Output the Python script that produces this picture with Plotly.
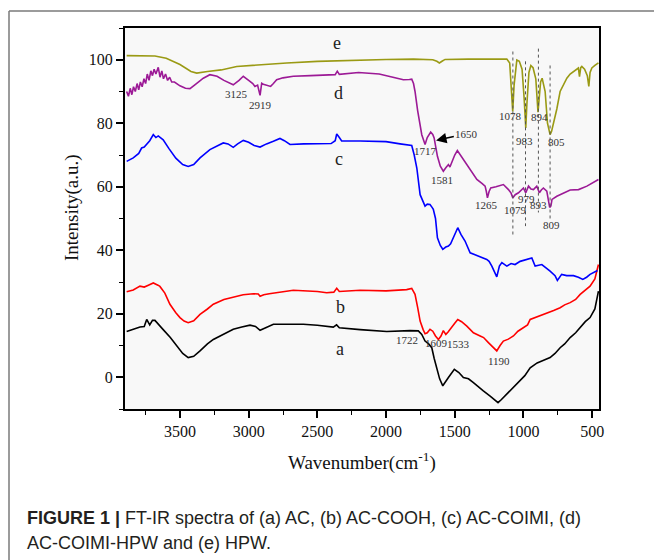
import plotly.graph_objects as go

# ---------------- data ----------------
e_x = [3888, 3800, 3682, 3600, 3500, 3420, 3378, 3300, 3200, 3087, 2900, 2723, 2500, 2189, 2000, 1800,
       1660, 1630, 1612, 1590, 1570, 1400, 1200, 1121, 1100, 1090, 1078, 1068, 1055, 1048, 1030, 1010,
       995, 983, 975, 960, 946, 930, 910, 894, 885, 875, 864, 842, 825, 815, 806, 795, 782, 757, 733,
       700, 684, 660, 636, 610, 600, 592, 583, 575, 555, 535, 524, 515, 502, 480, 454]
e_y = [101.3, 101.3, 101.2, 100.5, 98.5, 96.3, 95.8, 96.3, 96.8, 97.9, 98.5, 99.0, 99.5, 100.0, 100.1, 100.2,
       100.0, 99.5, 99.0, 99.6, 100.1, 100.2, 100.3, 100.2, 99.0, 93.0, 83.7, 92.0, 99.0, 99.9, 99.5, 97.0,
       88.0, 78.5, 86.0, 96.0, 98.2, 97.5, 94.0, 83.5, 88.0, 93.0, 94.2, 90.0, 80.0, 77.5, 76.4, 77.5, 79.6, 84.5, 90.0,
       93.0, 94.2, 95.5, 96.3, 97.2, 97.4, 94.7, 97.5, 97.9, 97.0, 95.0, 91.6, 96.0, 97.4, 98.2, 99.0]

d_x = [3888, 3875, 3862, 3850, 3838, 3825, 3812, 3800, 3788, 3775, 3762, 3750, 3738, 3725, 3712, 3700,
       3688, 3675, 3658, 3645, 3632, 3620, 3605, 3590, 3575, 3560, 3540, 3500, 3460, 3427, 3380, 3330,
       3282, 3230, 3180, 3112, 3070, 3039, 3000, 2970, 2954, 2935, 2917, 2905, 2893, 2860, 2840, 2820,
       2796, 2750, 2675, 2550, 2400, 2370, 2355, 2340, 2200, 2050, 1950, 1874, 1830, 1813, 1800, 1789,
       1770, 1740, 1716, 1700, 1675, 1660, 1650, 1640, 1626, 1605, 1583, 1565, 1546, 1535, 1520, 1500,
       1481, 1460, 1412, 1380, 1339, 1300, 1279, 1270, 1262, 1250, 1238, 1200, 1146, 1109, 1090, 1077,
       1060, 1036, 1000, 983, 963, 945, 927, 903, 884, 870, 855, 830, 818, 809, 800, 792, 757, 709, 660,
       599, 538, 454]
d_y = [90.0, 88.5, 91.0, 89.0, 91.5, 90.0, 92.5, 90.5, 93.0, 91.5, 94.0, 92.5, 95.5, 93.5, 96.5, 95.0,
       97.0, 95.5, 97.6, 94.5, 96.5, 94.0, 95.5, 93.5, 94.5, 93.0, 93.0, 91.8, 91.0, 90.9, 92.5, 94.2,
       95.3, 94.8, 93.5, 92.1, 93.5, 94.8, 93.5, 92.5, 91.6, 92.0, 88.8, 92.6, 92.3, 92.0, 91.6, 92.5,
       93.7, 94.3, 94.8, 95.0, 95.3, 95.3, 96.4, 95.4, 96.0, 95.5, 94.5, 93.7, 93.8, 93.9, 92.5, 90.0,
       84.0, 76.4, 73.3, 75.5, 77.2, 76.5, 75.4, 73.0, 69.6, 66.5, 64.9, 66.0, 67.0, 66.2, 68.0, 70.0,
       71.4, 70.0, 67.0, 65.0, 62.3, 61.0, 60.2, 58.5, 56.5, 58.5, 59.6, 60.0, 60.7, 59.1, 58.0, 56.5,
       57.5, 58.1, 59.6, 58.1, 60.2, 59.3, 59.1, 60.2, 58.1, 59.0, 59.6, 58.6, 56.0, 53.5, 54.0, 56.0, 57.0, 58.0, 59.0,
       59.1, 60.2, 62.3]

c_x = [3888, 3840, 3800, 3779, 3760, 3742, 3720, 3694, 3675, 3658, 3640, 3622, 3580, 3530, 3480, 3440,
       3400, 3354, 3282, 3230, 3185, 3150, 3112, 3080, 3039, 3000, 2960, 2917, 2870, 2820, 2772, 2740,
       2699, 2600, 2480, 2400, 2370, 2359, 2340, 2323, 2189, 2000, 1898, 1813, 1795, 1776, 1752, 1730,
       1716, 1700, 1680, 1665, 1656, 1640, 1626, 1605, 1587, 1565, 1546, 1530, 1510, 1478, 1455, 1425,
       1388, 1352, 1310, 1267, 1250, 1230, 1194, 1175, 1157, 1121, 1090, 1061, 1024, 980, 939, 915, 866,
       806, 770, 753, 722, 685, 636, 600, 568, 540, 515, 461]
c_y = [68.0, 69.1, 70.5, 72.2, 72.5, 73.3, 74.5, 76.4, 75.5, 76.0, 75.3, 74.8, 72.0, 69.0, 67.0, 66.4,
       67.0, 69.1, 71.7, 72.8, 73.8, 73.5, 72.4, 73.5, 74.6, 74.0, 73.0, 72.5, 73.5, 74.3, 75.2, 74.5,
       73.3, 73.5, 73.5, 73.6, 74.5, 76.6, 75.5, 74.4, 74.4, 74.2, 73.5, 73.0, 70.0, 65.9, 57.5, 55.0,
       53.9, 54.5, 54.4, 53.5, 52.9, 50.0, 43.9, 41.5, 40.3, 41.0, 41.3, 42.0, 44.0, 47.1, 45.0, 42.9,
       39.2, 38.6, 38.0, 37.1, 36.5, 35.0, 31.6, 35.0, 36.1, 35.0, 35.8, 35.5, 36.5, 37.0, 37.6, 35.0, 35.5,
       33.4, 32.0, 30.5, 32.4, 32.0, 32.0, 31.5, 30.8, 31.5, 32.4, 33.6]

b_x = [3888, 3840, 3791, 3760, 3730, 3694, 3660, 3646, 3610, 3573, 3530, 3500, 3470, 3440, 3400, 3354,
       3300, 3257, 3180, 3112, 3040, 2966, 2930, 2917, 2890, 2850, 2675, 2500, 2432, 2380, 2359, 2340,
       2189, 2000, 1850, 1813, 1789, 1770, 1752, 1730, 1716, 1700, 1680, 1660, 1640, 1619, 1600, 1583,
       1565, 1550, 1522, 1500, 1478, 1450, 1412, 1364, 1315, 1290, 1255, 1220, 1194, 1170, 1146, 1110,
       1073, 1040, 1000, 970, 951, 900, 830, 780, 733, 700, 660, 620, 587, 550, 515, 480, 454]
b_y = [26.9, 27.5, 28.7, 28.4, 29.0, 29.7, 29.0, 28.6, 26.5, 23.0, 20.3, 18.8, 17.7, 17.2, 17.8, 19.8,
       21.5, 23.0, 24.5, 25.3, 26.0, 26.3, 26.2, 25.5, 26.0, 26.3, 27.4, 27.0, 26.6, 26.8, 28.0, 27.0,
       27.4, 27.2, 27.6, 28.0, 26.1, 22.0, 17.7, 15.0, 13.7, 14.0, 15.1, 14.5, 13.0, 11.9, 13.0, 14.7,
       13.5, 14.2, 15.6, 17.0, 18.2, 17.5, 16.1, 14.0, 13.0, 12.5, 10.9, 9.5, 8.3, 10.0, 11.4, 12.0,
       13.0, 14.5, 15.6, 16.5, 18.2, 19.0, 20.3, 21.0, 21.9, 22.8, 23.5, 24.5, 26.1, 27.5, 28.7, 31.0, 35.5]

a_x = [3888, 3840, 3791, 3760, 3742, 3720, 3700, 3682, 3650, 3622, 3570, 3524, 3480, 3440, 3400, 3354,
       3300, 3257, 3180, 3112, 3050, 2990, 2950, 2917, 2880, 2820, 2700, 2602, 2500, 2384, 2360, 2340,
       2189, 1995, 1825, 1765, 1740, 1716, 1690, 1667, 1650, 1631, 1610, 1587, 1565, 1546, 1503, 1470,
       1437, 1400, 1364, 1330, 1292, 1240, 1185, 1160, 1121, 1080, 1024, 990, 951, 900, 866, 830, 806,
       770, 733, 700, 660, 620, 587, 550, 515, 480, 454]
a_y = [14.4, 15.2, 15.8, 16.0, 18.2, 16.5, 17.9, 17.9, 16.5, 15.0, 12.5, 9.8, 7.5, 6.2, 6.6, 8.3,
       10.5, 11.9, 13.5, 15.1, 15.8, 16.4, 16.0, 14.8, 15.5, 16.7, 16.7, 16.7, 16.4, 15.8, 16.5, 15.6,
       15.0, 14.4, 14.7, 14.6, 13.5, 11.4, 10.5, 9.3, 6.0, 3.0, -0.5, -2.7, -1.5, -0.1, 2.5, 1.5,
       -0.1, -0.5, -1.7, -3.0, -4.3, -6.0, -8.0, -7.0, -5.3, -3.5, -1.2, 0.5, 3.0, 4.5, 5.1, 5.8, 6.2,
       7.5, 9.3, 10.5, 12.5, 14.0, 15.6, 17.5, 18.8, 21.5, 27.1]

curve_names = ["a", "b", "c", "d", "e"]
curve_colors = ["#000000", "#ff0000", "#0000ff", "#9c1a96", "#9a9a14"]

# curve letter labels: (text, x, y)
letter_labels = [("e", 2357, 105.3), ("d", 2349, 89.6), ("c", 2342, 68.6), ("b", 2335, 22.0), ("a", 2335, 8.8)]

# peak labels: (text, x, y)
peak_labels = [("3125", 3092, 89.2), ("2919", 2917, 85.8), ("1717", 1716, 71.4), ("1581", 1594, 62.0),
               ("1265", 1272, 54.2), ("1079", 1058, 52.6), ("979", 975, 56.2), ("893", 888, 54.1),
               ("809", 795, 48.0), ("1078", 1092, 82.4), ("983", 995, 74.3), ("894", 886, 82.0),
               ("805", 762, 74.1), ("1722", 1849, 11.6), ("1609", 1631, 10.8), ("1533", 1473, 10.4),
               ("1190", 1175, 5.1)]

# arrowed label "1650": text position and arrow head
arrow_text = ("1650", 1412, 76.7)
arrow_head = (1636, 74.6)

# dotted guide lines: (x, y_top, y_bottom)
guide_lines = [(1077, 102.6, 44.4), (985, 99.5, 47.6), (891, 103.5, 51.9), (806, 98.2, 49.5)]

x_ticks = [3500, 3000, 2500, 2000, 1500, 1000, 500]
y_ticks = [0, 20, 40, 60, 80, 100]

caption_1 = "<b>FIGURE 1 |</b> FT-IR spectra of (a) AC, (b) AC-COOH, (c) AC-COIMI, (d)"
caption_2 = "AC-COIMI-HPW and (e) HPW."

# ---------------- figure ----------------
fig = go.Figure()
series = [(a_x, a_y), (b_x, b_y), (c_x, c_y), (d_x, d_y), (e_x, e_y)]
for (xs, ys), nm, col in zip(series, curve_names, curve_colors):
    fig.add_trace(go.Scatter(x=xs, y=ys, mode="lines", name=nm,
                             line=dict(color=col, width=1.6), showlegend=False))

serif = "Liberation Serif"
annotations = []
for t, x, y in letter_labels:
    annotations.append(dict(x=x, y=y, xref="x", yref="y", text=t, showarrow=False,
                            font=dict(family=serif, size=18, color="#222")))
for t, x, y in peak_labels:
    annotations.append(dict(x=x, y=y, xref="x", yref="y", text=t, showarrow=False,
                            font=dict(family=serif, size=11, color="#333")))
annotations.append(dict(x=arrow_head[0], y=arrow_head[1], xref="x", yref="y",
                        ax=arrow_text[1], ay=arrow_text[2], axref="x", ayref="y",
                        text=arrow_text[0], showarrow=True, arrowhead=2, arrowsize=1.4,
                        arrowwidth=1.5, arrowcolor="#000", standoff=0,
                        font=dict(family=serif, size=11, color="#333")))

# plot area geometry helpers (pixels)
L, R, T, B = 125, 599, 28, 409
W, H = R - L, B - T
def px(xp):
    return (xp - L) / W
def py(yp):
    return (B - yp) / H

annotations += [
    dict(x=px(72), y=py(208), xref="paper", yref="paper", text="Intensity(a.u.)", textangle=-90,
         xanchor="center", yanchor="middle",
         showarrow=False, font=dict(family=serif, size=19, color="#111")),
    dict(x=px(362), y=py(461), xref="paper", yref="paper", text="Wavenumber(cm<sup>-1</sup>)",
         xanchor="center", yanchor="middle",
         showarrow=False, font=dict(family=serif, size=19, color="#111")),
    dict(x=px(25), y=py(518), xref="paper", yref="paper", text=caption_1, xanchor="left", yanchor="middle",
         showarrow=False, font=dict(family="Liberation Sans", size=18, color="#231f20")),
    dict(x=px(25), y=py(542.5), xref="paper", yref="paper", text=caption_2, xanchor="left", yanchor="middle",
         showarrow=False, font=dict(family="Liberation Sans", size=18, color="#231f20")),
]

shapes = []
for gx, y0, y1 in guide_lines:
    shapes.append(dict(type="line", xref="x", yref="y", x0=gx, x1=gx, y0=y0, y1=y1,
                       line=dict(color="#555", width=1, dash="dot")))
# outer frame (top and left edges visible)
shapes.append(dict(type="line", xref="paper", yref="paper", x0=px(9), x1=px(700), y0=py(11), y1=py(11),
                   line=dict(color="#7a7a7a", width=1.5)))
shapes.append(dict(type="line", xref="paper", yref="paper", x0=px(9), x1=px(9), y0=py(11), y1=py(600),
                   line=dict(color="#7a7a7a", width=1.5)))

fig.update_layout(
    width=654, height=560, autosize=False,
    margin=dict(l=L, r=654 - R, t=T, b=560 - B),
    paper_bgcolor="white", plot_bgcolor="#f8f8f8",
    annotations=annotations, shapes=shapes,
    font=dict(family=serif, size=16, color="#111"),
)
fig.update_xaxes(range=[3900, 450], tickvals=x_ticks, ticktext=[str(v) for v in x_ticks],
                 ticks="outside", ticklen=7, tickwidth=1.5, tickcolor="#000",
                 showline=True, linecolor="#000", linewidth=2, mirror=True,
                 showgrid=False, zeroline=False,
                 tickfont=dict(family=serif, size=16, color="#111"),
                 minor=dict(dtick=250, tick0=500, ticks="outside", ticklen=4, tickcolor="#000", tickwidth=1.2))
fig.update_yaxes(range=[-10, 110], tickvals=y_ticks, ticktext=[str(v) for v in y_ticks],
                 ticks="outside", ticklen=7, tickwidth=1.5, tickcolor="#000",
                 showline=True, linecolor="#000", linewidth=2, mirror=True,
                 showgrid=False, zeroline=False,
                 tickfont=dict(family=serif, size=16, color="#111"),
                 minor=dict(dtick=10, tick0=0, ticks="outside", ticklen=4, tickcolor="#000", tickwidth=1.2))

fig.write_html("out.html")
